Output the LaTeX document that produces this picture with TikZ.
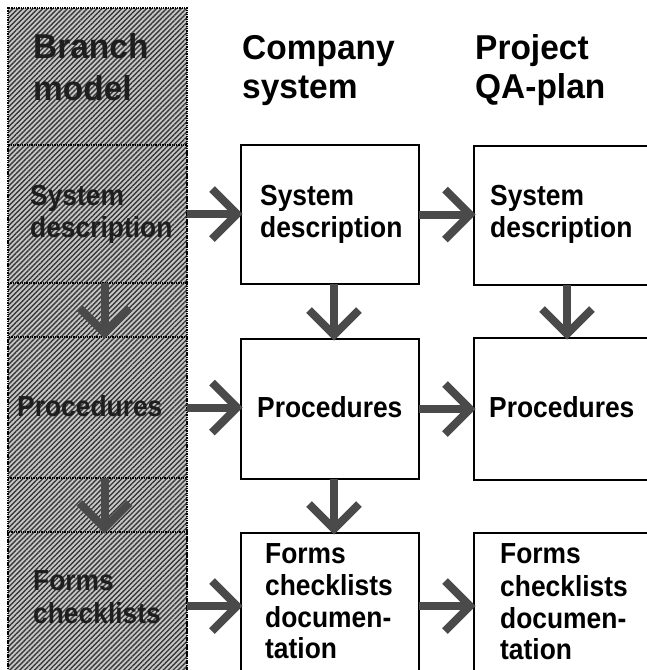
\documentclass[tikz,border=0pt]{standalone}
\usepackage{fontspec}
\setmainfont{Liberation Sans}
\newfontfamily\bodyfnt[FakeStretch=0.91]{Liberation Sans}
\newfontfamily\headfnt[FakeStretch=0.97]{Liberation Sans}
\usetikzlibrary{patterns.meta}
\definecolor{arrowgray}{HTML}{4A4A4A}
\definecolor{hatchtext}{HTML}{1E1E1E}
\tikzset{
  box/.style={draw=black, line width=1.3pt, fill=white, anchor=north west, minimum width=178pt, inner sep=0pt, outer sep=0pt},
  lbox/.style={draw=black, line width=1.3pt, densely dotted, anchor=north west, minimum width=179pt, inner sep=0pt, outer sep=0pt},
  head/.style={anchor=base west, inner sep=0pt, font=\headfnt\bfseries\fontsize{34.5}{39}\selectfont},
  txt/.style={anchor=base west, inner sep=0pt, font=\bodyfnt\bfseries\fontsize{29}{32}\selectfont},
  ltxt/.style={txt, text=hatchtext},
  lhead/.style={head, text=hatchtext},
  shaft/.style={draw=arrowgray, line width=8pt},
  barb/.style={draw=arrowgray, line width=8pt, miter limit=10},
}
\begin{document}
\begin{tikzpicture}[x=1pt, y=-1pt]
\useasboundingbox (0,0) rectangle (647,670);
\clip (0,0) rectangle (647,670);
\fill[white] (0,0) rectangle (647,670);
% hatched column
\fill[black!22] (8,8) rectangle (187,690);
\fill[pattern={Lines[angle=45,distance=3.5pt,line width=1.4pt]}, pattern color=black!78] (8,8) rectangle (187,690);
\draw[black, line width=1.3pt, densely dotted] (8,690) -- (8,8) -- (187,8) -- (187,690);
% left boxes
\node[lbox, minimum height=138pt] (l1) at (8,145) {};
\node[lbox, minimum height=141pt] (l2) at (8,337) {};
\node[lbox, minimum height=148pt] (l3) at (8,532) {};
% middle boxes
\node[box, minimum height=139pt] (m1) at (241,145) {};
\node[box, minimum height=140pt] (m2) at (241,339) {};
\node[box, minimum height=146pt] (m3) at (241,533) {};
% right boxes
\node[box, minimum height=139pt] (r1) at (474,146) {};
\node[box, minimum height=142pt] (r2) at (474,338) {};
\node[box, minimum height=146pt] (r3) at (474,533) {};
% headers
\node[lhead] (bh1) at (33,58) {Branch};
\node[lhead] (bh2) at (33,100) {model};
\node[head] (ch1) at (242,59) {Company};
\node[head] (ch2) at (242,98) {system};
\node[head] (ph1) at (475,59) {Project};
\node[head] (ph2) at (475,98) {QA-plan};
% left texts
\node[ltxt] (lt1) at (30,205) {System};
\node[ltxt] (lt2) at (30,237) {description};
\node[ltxt] (lt3) at (17,416) {Procedures};
\node[ltxt] (lt4) at (33,590) {Forms};
\node[ltxt] (lt5) at (33,623) {checklists};
% middle texts
\node[txt] (mt1) at (260,205) {System};
\node[txt] (mt2) at (260,237) {description};
\node[txt] (mt3) at (257,417) {Procedures};
\node[txt] (mt4) at (265,563) {Forms};
\node[txt] (mt5) at (265,595) {checklists};
\node[txt] (mt6) at (265,627) {documen-};
\node[txt] (mt7) at (265,658) {tation};
% right texts
\node[txt] (rt1) at (490,205) {System};
\node[txt] (rt2) at (490,237) {description};
\node[txt] (rt3) at (489,417) {Procedures};
\node[txt] (rt4) at (500,563) {Forms};
\node[txt] (rt5) at (500,596) {checklists};
\node[txt] (rt6) at (500,628) {documen-};
\node[txt] (rt7) at (500,659) {tation};
% horizontal arrows
\foreach \a/\b/\n in {l1/m1/h1, m1/r1/h2, l2/m2/h3, m2/r2/h4, l3/m3/h5, m3/r3/h6}{
  \coordinate (\n) at (\a.east -| \b.west);
  \draw[shaft] (\a.east) -- ([shift={(-4,0)}]\n);
  \draw[barb] ([shift={(-29,-25)}]\n) -- ([shift={(-4,0)}]\n) -- ([shift={(-29,25)}]\n);
}
% vertical arrows
\foreach \a/\b/\n/\s in {l1/l2/v1/7, l2/l3/v2/7, m1/m2/v3/4, m2/m3/v4/4, r1/r2/v5/4}{
  \coordinate (\n s) at ([shift={(\s,0)}]\a.south);
  \coordinate (\n) at (\n s |- \b.north);
  \draw[shaft] (\n s) -- ([shift={(0,-4)}]\n);
  \draw[barb] ([shift={(-25,-29)}]\n) -- ([shift={(0,-4)}]\n) -- ([shift={(25,-29)}]\n);
}
\end{tikzpicture}
\end{document}
